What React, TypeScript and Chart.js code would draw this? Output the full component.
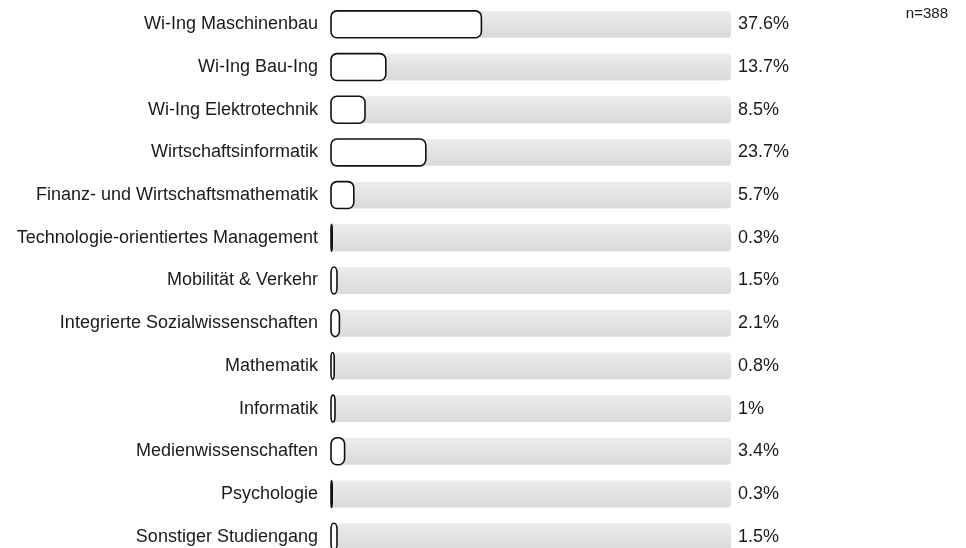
import React, { useEffect, useRef } from "react";
import { Chart, registerables } from "chart.js";

Chart.register(...registerables);

const categories: string[] = [
  "Wi-Ing Maschinenbau",
  "Wi-Ing Bau-Ing",
  "Wi-Ing Elektrotechnik",
  "Wirtschaftsinformatik",
  "Finanz- und Wirtschaftsmathematik",
  "Technologie-orientiertes Management",
  "Mobilität & Verkehr",
  "Integrierte Sozialwissenschaften",
  "Mathematik",
  "Informatik",
  "Medienwissenschaften",
  "Psychologie",
  "Sonstiger Studiengang",
];

const shares: number[] = [37.6, 13.7, 8.5, 23.7, 5.7, 0.3, 1.5, 2.1, 0.8, 1, 3.4, 0.3, 1.5];
const fullScale: number[] = categories.map(() => 100);
const sampleNote = "n=388";

const FONT = "'Liberation Sans', Arial, Helvetica, sans-serif";

export default function App() {
  const canvasRef = useRef<HTMLCanvasElement | null>(null);

  useEffect(() => {
    const canvas = canvasRef.current;
    if (!canvas) return;

    const gradientPlugin = {
      id: "bgGradient",
      beforeDatasetsDraw(chart: any) {
        const meta = chart.getDatasetMeta(1);
        const ctx = chart.ctx;
        meta.data.forEach((el: any) => {
          const h = el.height;
          const top = el.y - h / 2;
          const g = ctx.createLinearGradient(0, top, 0, top + h);
          g.addColorStop(0, "#ececec");
          g.addColorStop(1, "#dadada");
          el.options = Object.assign({}, el.options, { backgroundColor: g });
        });
      },
    };

    const outlinePlugin = {
      id: "outlineBars",
      afterDatasetsDraw(chart: any) {
        const ctx = chart.ctx;
        const meta = chart.getDatasetMeta(0);
        ctx.save();
        meta.data.forEach((el: any) => {
          const x0 = Math.min(el.base, el.x);
          const x1 = Math.max(el.base, el.x);
          const h = el.height;
          const y0 = el.y - h / 2;
          const y1 = el.y + h / 2;
          const w = x1 - x0;
          const rx = Math.min(6, w / 2);
          const ry = Math.min(6, h / 2);
          ctx.beginPath();
          ctx.moveTo(x0 + rx, y0);
          ctx.lineTo(x1 - rx, y0);
          ctx.ellipse(x1 - rx, y0 + ry, rx, ry, 0, -Math.PI / 2, 0);
          ctx.lineTo(x1, y1 - ry);
          ctx.ellipse(x1 - rx, y1 - ry, rx, ry, 0, 0, Math.PI / 2);
          ctx.lineTo(x0 + rx, y1);
          ctx.ellipse(x0 + rx, y1 - ry, rx, ry, 0, Math.PI / 2, Math.PI);
          ctx.lineTo(x0, y0 + ry);
          ctx.ellipse(x0 + rx, y0 + ry, rx, ry, 0, Math.PI, (3 * Math.PI) / 2);
          ctx.closePath();
          ctx.fillStyle = "#ffffff";
          ctx.fill();
          ctx.lineWidth = 1.6;
          ctx.strokeStyle = "#111111";
          ctx.stroke();
        });
        ctx.restore();
      },
    };

    const labelPlugin = {
      id: "valueLabels",
      afterDatasetsDraw(chart: any) {
        const ctx = chart.ctx;
        const xScale = chart.scales.x;
        const meta = chart.getDatasetMeta(0);
        ctx.save();
        ctx.font = `18px ${FONT}`;
        ctx.fillStyle = "#1a1a1a";
        ctx.textAlign = "left";
        ctx.textBaseline = "middle";
        const xPos = xScale.getPixelForValue(100) + 7;
        meta.data.forEach((el: any, i: number) => {
          ctx.fillText(`${shares[i]}%`, xPos, el.y);
        });
        ctx.font = `15px ${FONT}`;
        ctx.textAlign = "right";
        ctx.fillText(sampleNote, 948, 14);
        ctx.restore();
      },
    };

    const chart = new Chart(canvas, {
      type: "bar",
      data: {
        labels: categories,
        datasets: [
          {
            data: shares,
            backgroundColor: "rgba(0,0,0,0)",
            borderWidth: 0,
            grouped: false,
            categoryPercentage: 1,
            barPercentage: 0.63,
          },
          {
            data: fullScale,
            backgroundColor: "#e3e3e3",
            borderWidth: 0,
            borderRadius: 4,
            borderSkipped: false,
            grouped: false,
            categoryPercentage: 1,
            barPercentage: 0.63,
          },
        ],
      },
      options: {
        indexAxis: "y",
        animation: false,
        responsive: true,
        maintainAspectRatio: false,
        layout: { padding: { top: 3, bottom: 2, left: 0, right: 235 } },
        plugins: {
          legend: { display: false },
          tooltip: { enabled: false },
          title: { display: false },
        },
        scales: {
          x: {
            display: false,
            min: 0,
            max: 100,
          },
          y: {
            afterFit: (s: any) => {
              s.width = 331;
              s.paddingTop = 0;
              s.paddingBottom = 0;
            },
            grid: { display: false, drawTicks: false },
            border: { display: false },
            ticks: {
              padding: 13,
              color: "#1a1a1a",
              font: { family: FONT, size: 18 },
              autoSkip: false,
            },
          },
        },
      },
      plugins: [gradientPlugin, outlinePlugin, labelPlugin],
    } as any);

    return () => {
      chart.destroy();
    };
  }, []);

  return (
    <div
      style={{
        position: "fixed",
        left: 0,
        top: 0,
        width: 966,
        height: 560,
        background: "#ffffff",
      }}
    >
      <canvas ref={canvasRef} />
    </div>
  );
}
